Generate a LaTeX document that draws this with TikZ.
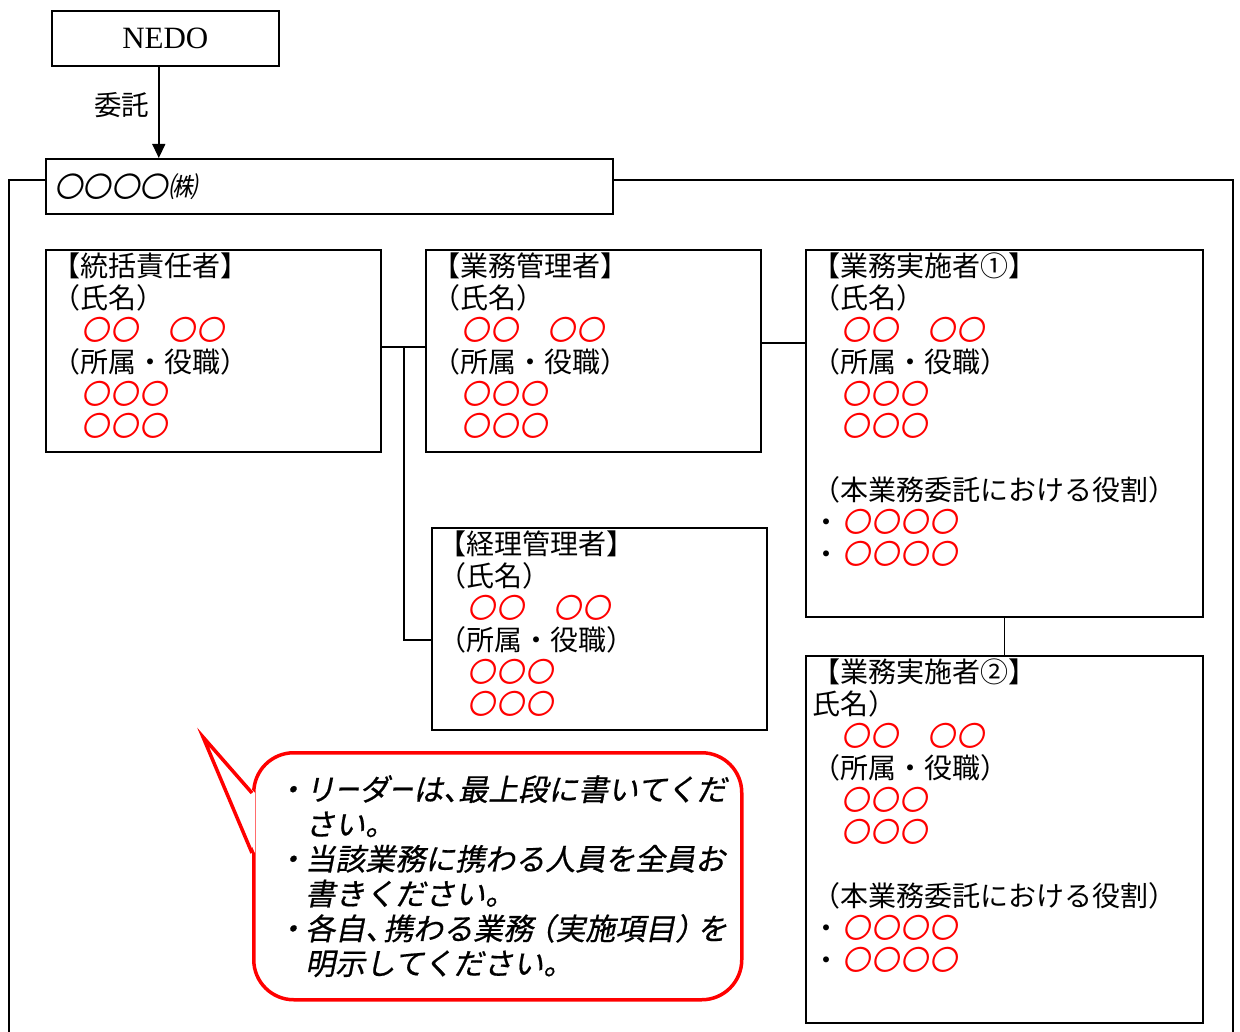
\documentclass[tikz,border=0pt]{standalone}
\usepackage{fontspec}
\usepackage{graphicx}
\usepackage{xcolor}
\usepackage{tikz}
\usetikzlibrary{arrows.meta}
\setmainfont{Liberation Serif}
\newfontfamily\jpfont{Noto Sans CJK JP}
\newfontfamily\jpslant[FakeSlant=0.2]{Noto Sans CJK JP}
\newfontfamily\noteslant[FakeSlant=0.2, FakeBold=0.6]{Noto Sans CJK JP}
\newcommand{\redmaru}{\makebox[29pt][l]{\color{red}\jpslant 〇}}
\newcommand{\notedot}{\makebox[28pt][c]{・}}
\newcommand{\shortbar}{\scalebox{0.8}[1]{ー}}
\newcommand{\narrowl}[2]{\makebox[#1][l]{#2}}
\newcommand{\narrowr}[2]{\makebox[#1][r]{#2}}
\tikzstyle{orgbox}=[draw, line width=1.6pt, anchor=north west, inner sep=0pt]
\tikzstyle{boxtext}=[anchor=north west, inner sep=0pt, align=left, font=\jpfont\fontsize{28}{32}\selectfont]
\tikzstyle{link}=[line width=1.4pt]
\tikzstyle{callout}=[draw=red, line width=3.5pt, rounded corners=40pt, fill=white, anchor=north west, inner sep=0pt]
\tikzstyle{notetext}=[anchor=north west, inner sep=0pt, align=left, font=\noteslant\fontsize{30}{34.8}\selectfont]

\begin{document}
\begin{tikzpicture}[x=1pt, y=-1pt]
    \useasboundingbox (0,0) rectangle (1240,1032);
    % top of the chart
    \node[orgbox, minimum width=227pt, minimum height=55pt, font=\fontsize{31}{34}\selectfont] (nedo) at (51,10) {NEDO};
    \node[orgbox, minimum width=567pt, minimum height=55pt] (company) at (45,158) {};
    \node[anchor=west, inner sep=0pt, font=\jpslant\fontsize{28.5}{30}\selectfont] (companyname) at ([xshift=9pt]company.west) {〇〇〇〇㈱};
    \coordinate (itakutop) at ([xshift=-6.5pt]nedo.south);
    \draw[link, -{Triangle[length=14pt,width=13pt]}] (itakutop) -- (itakutop |- company.north)
        node[midway, left, inner sep=9pt, yshift=7pt, font=\jpfont\fontsize{27.5}{30}\selectfont] (itaku) {委託};

    % frame of the company
    \coordinate (fl) at (9,180); \coordinate (flb) at (9,1040);
    \coordinate (fr) at (1233,180); \coordinate (frb) at (1233,1040);
    \draw[link] (company.west |- fl) -- (fl) -- (flb);
    \draw[link] (company.east |- fr) -- (fr) -- (frb);

    % members
    \node[orgbox, minimum width=335pt, minimum height=202pt] (tokatsu) at (45,249) {};
    \node[boxtext] (tokatsutext) at ([xshift=7pt,yshift=-3.5pt]tokatsu.north west) {【統括責任者】\\（氏名）\\
        \hspace*{29pt}\redmaru\redmaru\hspace*{28pt}\redmaru\redmaru\\（所属・役職）\\
        \hspace*{29pt}\redmaru\redmaru\redmaru\\ \hspace*{29pt}\redmaru\redmaru\redmaru};
    \node[orgbox, minimum width=335pt, minimum height=202pt] (gyomu) at (425,249) {};
    \node[boxtext] (gyomutext) at ([xshift=7pt,yshift=-3.5pt]gyomu.north west) {【業務管理者】\\（氏名）\\
        \hspace*{29pt}\redmaru\redmaru\hspace*{28pt}\redmaru\redmaru\\（所属・役職）\\
        \hspace*{29pt}\redmaru\redmaru\redmaru\\ \hspace*{29pt}\redmaru\redmaru\redmaru};
    \node[orgbox, minimum width=335pt, minimum height=202pt] (keiri) at (431,527) {};
    \node[boxtext] (keiritext) at ([xshift=7pt,yshift=-3.5pt]keiri.north west) {【経理管理者】\\（氏名）\\
        \hspace*{29pt}\redmaru\redmaru\hspace*{28pt}\redmaru\redmaru\\（所属・役職）\\
        \hspace*{29pt}\redmaru\redmaru\redmaru\\ \hspace*{29pt}\redmaru\redmaru\redmaru};
    \node[orgbox, minimum width=397pt, minimum height=367pt] (jisshi1) at (805,249) {};
    \node[boxtext] (jisshi1text) at ([xshift=7pt,yshift=-3.5pt]jisshi1.north west) {【業務実施者①】\\（氏名）\\
        \hspace*{29pt}\redmaru\redmaru\hspace*{28pt}\redmaru\redmaru\\（所属・役職）\\
        \hspace*{29pt}\redmaru\redmaru\redmaru\\ \hspace*{29pt}\redmaru\redmaru\redmaru\\[32pt]
        （本業務委託における役割）\\・\hspace*{2pt}\redmaru\redmaru\redmaru\redmaru\\
        ・\hspace*{2pt}\redmaru\redmaru\redmaru\redmaru};
    \node[orgbox, minimum width=397pt, minimum height=367pt] (jisshi2) at (805,655) {};
    \node[boxtext] (jisshi2text) at ([xshift=7pt,yshift=-3.5pt]jisshi2.north west) {【業務実施者②】\\氏名）\\
        \hspace*{29pt}\redmaru\redmaru\hspace*{28pt}\redmaru\redmaru\\（所属・役職）\\
        \hspace*{29pt}\redmaru\redmaru\redmaru\\ \hspace*{29pt}\redmaru\redmaru\redmaru\\[32pt]
        （本業務委託における役割）\\・\hspace*{2pt}\redmaru\redmaru\redmaru\redmaru\\
        ・\hspace*{2pt}\redmaru\redmaru\redmaru\redmaru};

    % connections
    \coordinate (branch) at (404,347);
    \coordinate (keirijoin) at (404,640);
    \coordinate (upper) at (782,343);
    \draw[link] (tokatsu.east |- branch) -- (gyomu.west |- branch);
    \draw[link] (branch) -- (keirijoin) -- (keiri.west |- keirijoin);
    \draw[link] (gyomu.east |- upper) -- (jisshi1.west |- upper);
    \draw[link] (jisshi1) -- (jisshi2);

    % note
    \node[callout, minimum width=488pt, minimum height=247pt] (note) at (252,751) {};
    \coordinate (tip) at (203,737);
    \coordinate (pa) at (252,793); \coordinate (pb) at (252,853);
    \fill[white] (tip) -- ([xshift=3pt]pa) -- ([xshift=3pt]pb) -- cycle;
    \draw[red, line width=3.5pt, line join=miter] (pa) -- (tip) -- (pb);
    \node[notetext] (notetext) at ([xshift=25pt,yshift=-24pt]note.north west) {\notedot リ\shortbar ダ\shortbar は\narrowl{15pt}{、}最上段に書いてくだ\\
        \hspace*{28pt}さい。\\\notedot 当該業務に携わる人員を全員お\\\hspace*{28pt}書きください。\\
        \notedot 各自\narrowl{18pt}{、}携わる業務\narrowr{22pt}{（}実施項目\narrowl{22pt}{）}を\\\hspace*{28pt}明示してください。};
\end{tikzpicture}
\end{document}
